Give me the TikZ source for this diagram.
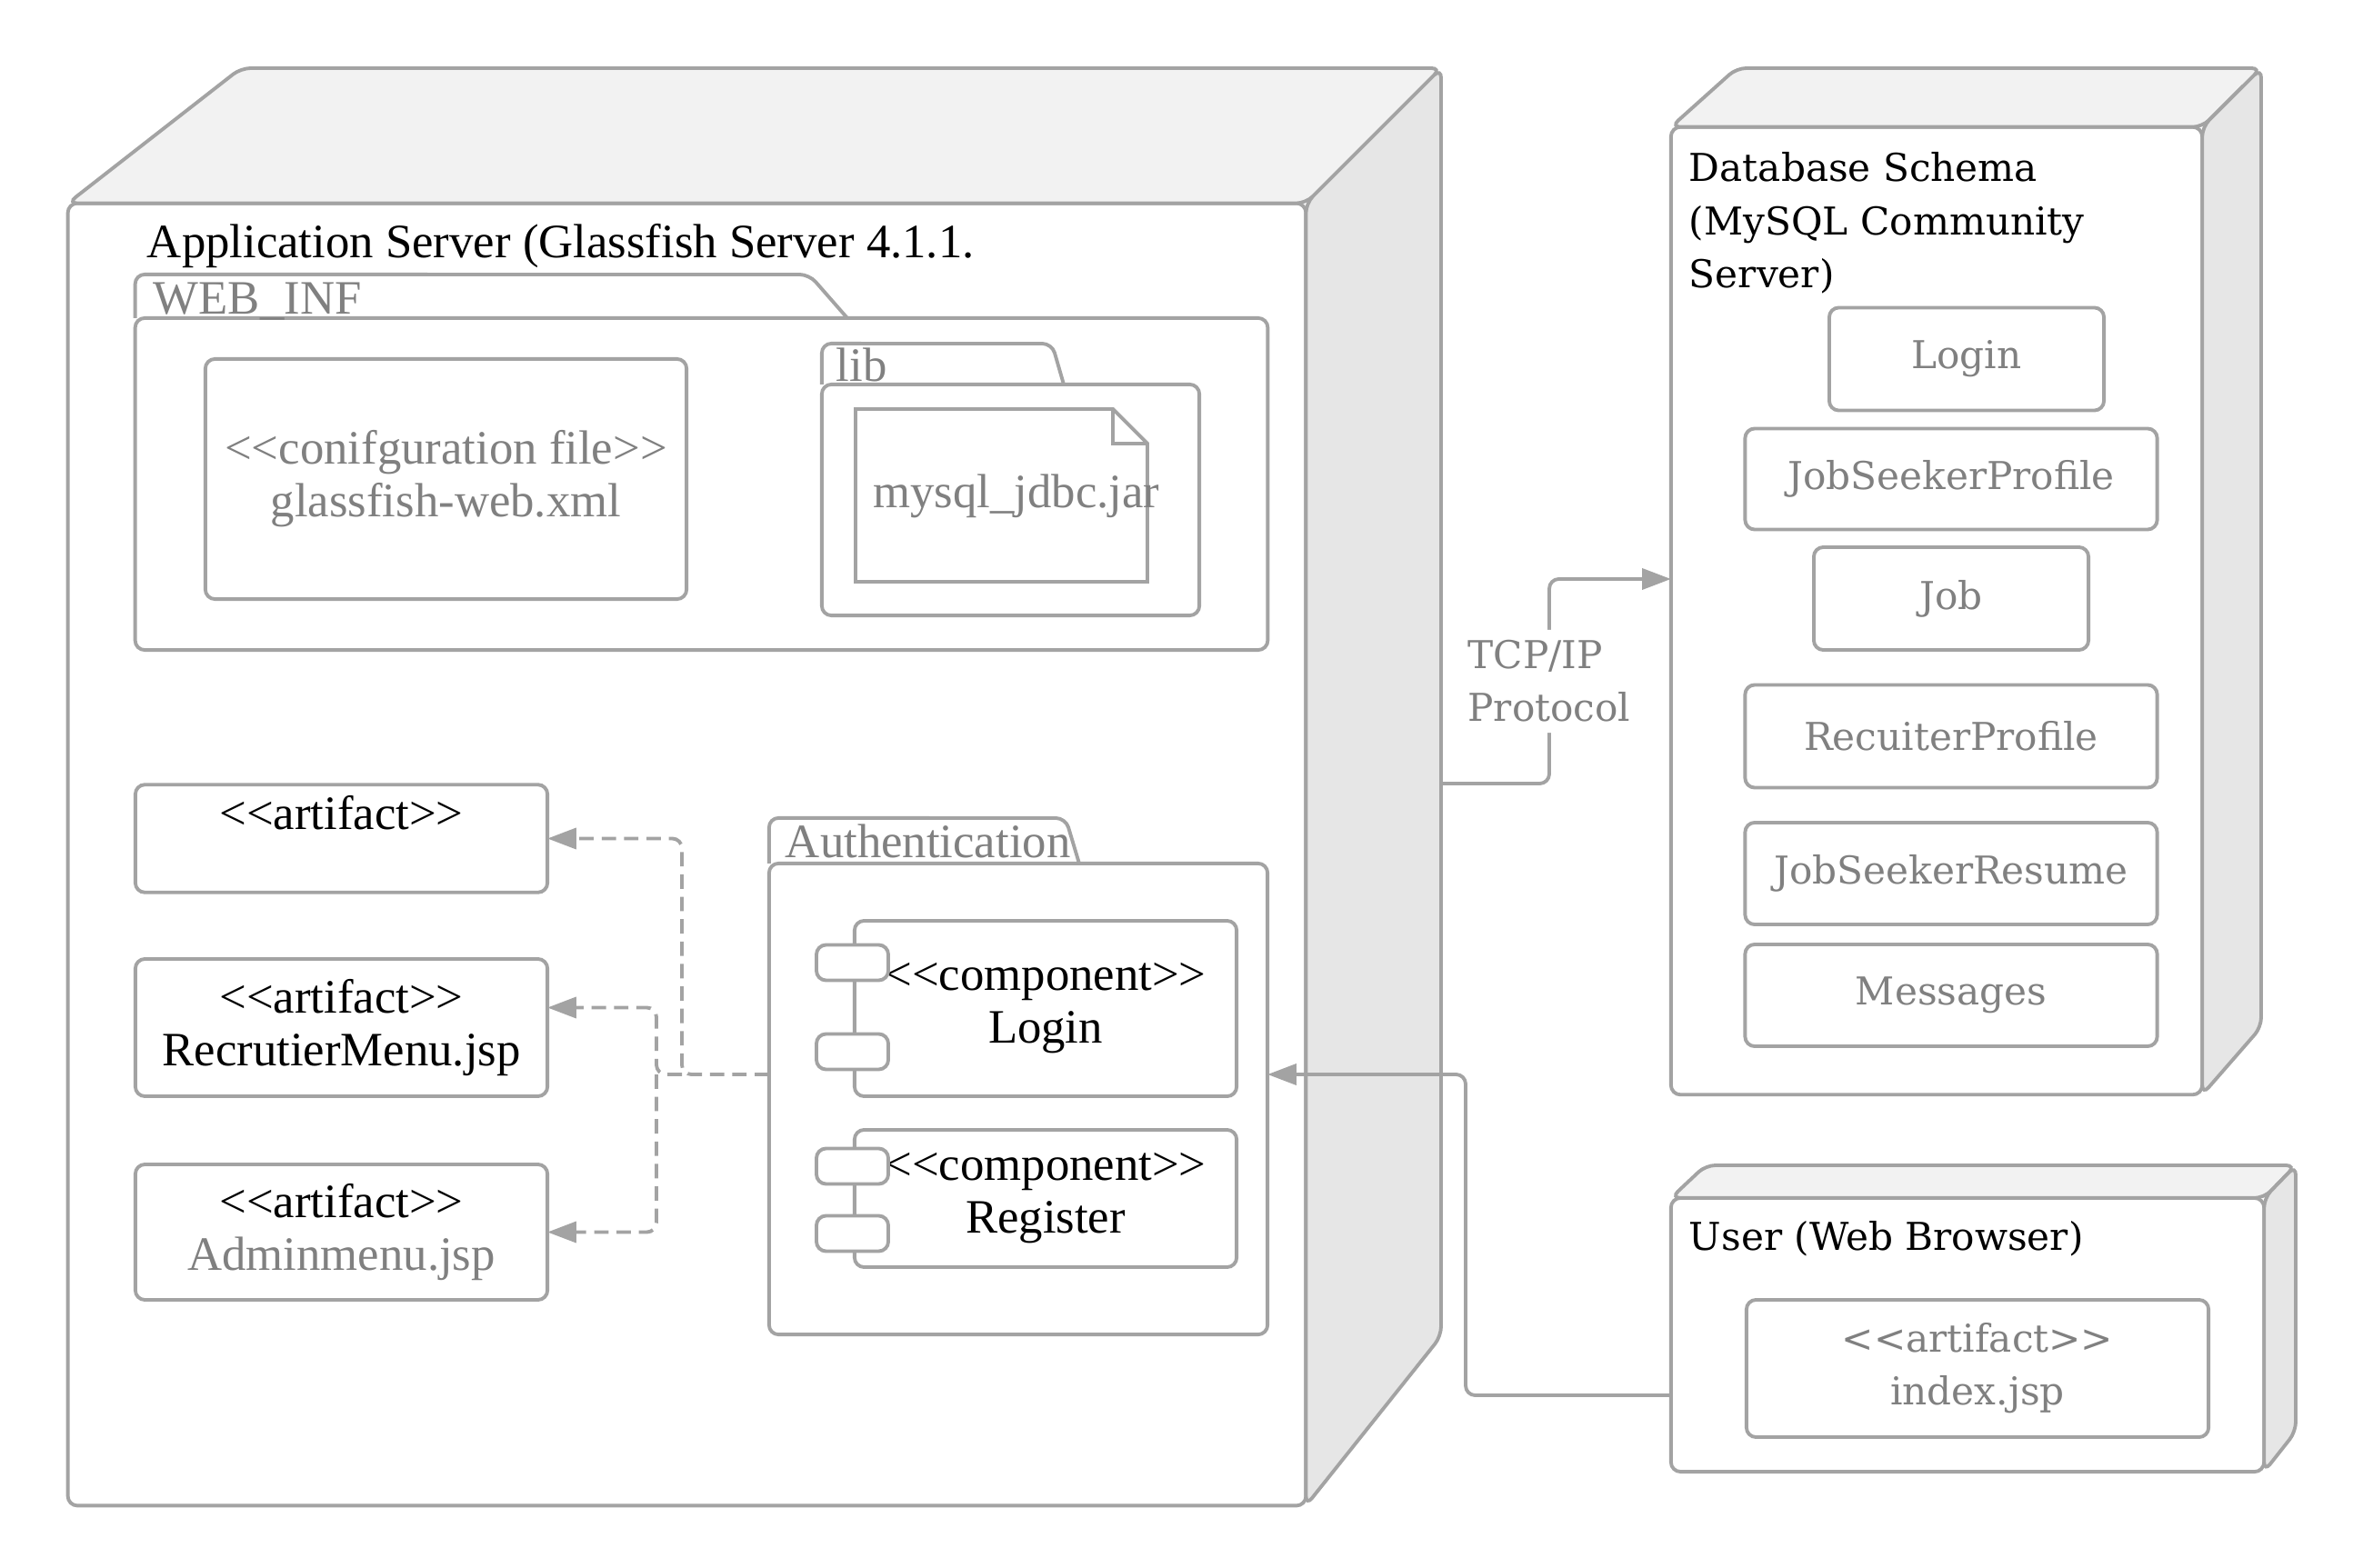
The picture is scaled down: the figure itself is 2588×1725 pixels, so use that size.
\documentclass[tikz,border=0pt]{standalone}
\usepackage{fontspec}
\setmainfont{Liberation Serif}
\newfontfamily\dbfont{DejaVu Serif}
\usetikzlibrary{arrows.meta,positioning}

\definecolor{linegray}{HTML}{A3A3A3}
\definecolor{textgray}{HTML}{808080}
\definecolor{topfill}{HTML}{F2F2F2}
\definecolor{sidefill}{HTML}{E6E6E6}
\newcommand\srvtext{\fontsize{15}{16.5}\selectfont}
\newcommand\dbtext{\dbfont\fontsize{12}{16.5}\selectfont}

\begin{document}
\begin{tikzpicture}[
    x = 0.01cm, y = -0.01cm, % one unit per pixel, y down
    > = {Triangle[length=9pt,width=6.5pt]}, % arrow head style
    line width = 1.1pt, % line style
    rounded corners = 3pt,
    font = \srvtext
    ]

    \tikzset{
    frontface/.style = {draw = linegray, fill = white, inner sep = 0pt, outer sep = 0pt},
    artbox/.style = {draw = linegray, fill = white, align = center, outer sep = 0pt},
    dbtable/.style = {artbox, font = \dbtext, text = textgray},
    port/.style = {artbox, minimum width = 0.79cm, minimum height = 0.39cm},
    lbl/.style = {inner sep = 0pt},
    conn/.style = {draw = linegray, ->},
    dep/.style = {conn, dash pattern = on 4.5pt off 2.5pt},
    tcplbl/.style = {fill = white, font = \dbtext, text = textgray, align = left}
    }
    \useasboundingbox (0,0) rectangle (2588,1725);

    % application server
    \node[frontface, minimum width=13.61cm, minimum height=14.32cm] (appsrv) at (755.5,940) {};
    \filldraw[draw=linegray, fill=topfill] (appsrv.north west) -- (265,75) -- (1585,75) -- (appsrv.north east) -- cycle;
    \filldraw[draw=linegray, fill=sidefill] (appsrv.north east) -- (1585,75) -- (1585,1470) -- (appsrv.south east) -- cycle;
    \node[lbl, anchor=base west] (apptitle) at (160,284) {Application Server (Glassfish Server 4.1.1.};

    % WEB_INF package
    \node[artbox, minimum width=12.45cm, minimum height=3.65cm] (webinf) at (771.5,532.5) {};
    \draw[linegray] (webinf.north west) -- ++(0,-48) -- (890,302) -- (932,350);
    \node[lbl, text=textgray, anchor=base west] (webinflbl) at (167,346) {WEB\_INF};
    \node[artbox, text=textgray, minimum width=5.29cm, minimum height=2.64cm] (conf) at (490.5,527) {<{}<conifguration file>{}>\\glassfish-web.xml};

    \node[artbox, minimum width=4.15cm, minimum height=2.54cm] (lib) at (1111.5,550) {};
    \draw[linegray] (lib.north west) -- ++(0,-45) -- (1157,378) -- (1170,423);
    \node[lbl, text=textgray, anchor=base west] (liblbl) at (918,420) {lib};
    \draw[linegray, sharp corners] (941,450) -- (1224,450) -- (1262,488) -- (1262,640) -- (941,640) -- cycle
        (1224,450) -- (1224,488) -- (1262,488);
    \node[text=textgray] (jar) at (1118,546) {mysql\_jdbc.jar};

    % artifacts
    \node[artbox, minimum width=4.53cm, minimum height=1.13cm] (art1) at (375.5,922.5) {<{}<artifact>{}>\\~};
    \node[artbox, minimum width=4.53cm, minimum height=1.51cm] (art2) at (375.5,1130.5) {<{}<artifact>{}>\\RecrutierMenu.jsp};
    \node[artbox, minimum width=4.53cm, minimum height=1.49cm] (art3) at (375.5,1355.5) {<{}<artifact>{}>\\\textcolor{textgray}{Adminmenu.jsp}};

    % Authentication package
    \node[artbox, minimum width=5.48cm, minimum height=5.18cm] (auth) at (1120,1209) {};
    \draw[linegray] (auth.north west) -- ++(0,-50) -- (1172,900) -- (1187,950);
    \node[lbl, text=textgray, anchor=base west] (authlbl) at (862,943) {Authentication};
    \node[artbox, minimum width=4.2cm, minimum height=1.93cm] (complogin) at (1150,1109.5) {<{}<component>{}>\\Login};
    \node[port] (loginpa) at (937.5,1059) {};
    \node[port] (loginpb) at (937.5,1157) {};
    \node[artbox, minimum width=4.2cm, minimum height=1.51cm] (compreg) at (1150,1318.5) {<{}<component>{}>\\Register};
    \node[port] (regpa) at (937.5,1283) {};
    \node[port] (regpb) at (937.5,1357) {};

    \coordinate (depa) at (750,1182);
    \coordinate (depb) at (722,1182);
    \draw[dep] (auth.west |- depa) -- (depa) |- (art1.east);
    \draw[dep] (depa) -- (depb) |- ([yshift=0.22cm]art2.east);
    \draw[dep] (depb) |- (art3.east);

    % database schema
    \node[frontface, minimum width=5.84cm, minimum height=10.64cm] (db) at (2130,672) {};
    \filldraw[draw=linegray, fill=topfill] (db.north west) -- (1910,75) -- (2487,75) -- (db.north east) -- cycle;
    \filldraw[draw=linegray, fill=sidefill] (db.north east) -- (2487,75) -- (2487,1130) -- (db.south east) -- cycle;
    \node[lbl, font=\dbtext, anchor=north west, align=left] (dbtitle) at (1856,166) {Database Schema\\(MySQL Community\\Server)};
    \node[dbtable, minimum width=3.02cm, minimum height=1.13cm] (tlogin) at (2163,395) {Login};
    \node[dbtable, minimum width=4.53cm, minimum height=1.11cm] (tseeker) at (2146,527) {JobSeekerProfile};
    \node[dbtable, minimum width=3.02cm, minimum height=1.13cm] (tjob) at (2146,658.5) {Job};
    \node[dbtable, minimum width=4.53cm, minimum height=1.13cm] (trecruiter) at (2146,810) {RecuiterProfile};
    \node[dbtable, minimum width=4.53cm, minimum height=1.12cm] (tresume) at (2146,961) {JobSeekerResume};
    \node[dbtable, minimum width=4.53cm, minimum height=1.12cm] (tmessages) at (2146,1095) {Messages};

    \coordinate (appside) at (1585,862);
    \coordinate (tcptop) at (1704,637);
    \draw[conn] (appside) -| node[tcplbl, pos=0.75] (tcp) {TCP/IP\\Protocol} (tcptop) -- (db.west |- tcptop);

    % user
    \node[frontface, minimum width=6.52cm, minimum height=3.01cm] (user) at (2164,1468.5) {};
    \filldraw[draw=linegray, fill=topfill] (user.north west) -- (1876,1282) -- (2525,1282) -- (user.north east) -- cycle;
    \filldraw[draw=linegray, fill=sidefill] (user.north east) -- (2525,1282) -- (2525,1575) -- (user.south east) -- cycle;
    \node[lbl, font=\dbtext, anchor=base west] (usertitle) at (1856,1375) {User (Web Browser)};
    \node[dbtable, minimum width=5.08cm, minimum height=1.51cm] (index) at (2175,1505.5) {<{}<artifact>{}>\\index.jsp};

    \coordinate (webin) at (1612,1535);
    \coordinate (webup) at (1612,1182);
    \draw[conn] (user.west |- webin) -- (webin) -- (webup) -- (auth.east |- webup);
\end{tikzpicture}
\end{document}
